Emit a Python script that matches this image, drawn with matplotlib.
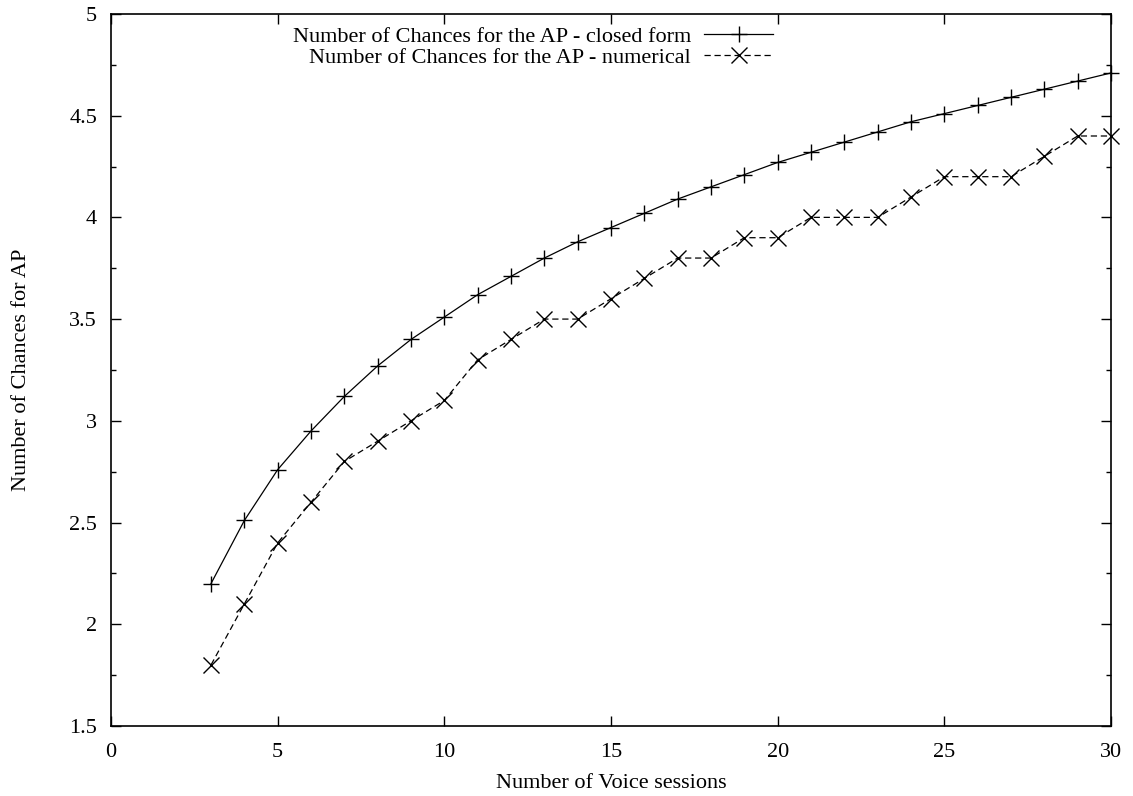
import matplotlib
matplotlib.use("Agg")
import matplotlib.pyplot as plt
from matplotlib.ticker import MultipleLocator

# Number of voice sessions
sessions = list(range(3, 31))

# closed form values
closed_form = [2.20, 2.51, 2.76, 2.95, 3.12, 3.27, 3.40, 3.51, 3.62, 3.71,
               3.80, 3.88, 3.95, 4.02, 4.09, 4.15, 4.21, 4.27, 4.32, 4.37,
               4.42, 4.47, 4.51, 4.55, 4.59, 4.63, 4.67, 4.71]

# numerical values
numerical = [1.8, 2.1, 2.4, 2.6, 2.8, 2.9, 3.0, 3.1, 3.3, 3.4,
             3.5, 3.5, 3.6, 3.7, 3.8, 3.8, 3.9, 3.9, 4.0, 4.0,
             4.0, 4.1, 4.2, 4.2, 4.2, 4.3, 4.4, 4.4]

plt.rcParams['font.family'] = ['Liberation Serif', 'DejaVu Serif']
plt.rcParams['font.size'] = 16

fig = plt.figure(figsize=(11.33, 7.96), dpi=100)
ax = fig.add_axes([0.098, 0.088, 0.8826, 0.8945])

ax.plot(sessions, closed_form, color='black', linewidth=0.9, marker='+',
        markersize=11, markeredgewidth=1.0,
        label='Number of Chances for the AP - closed form', clip_on=False)
ax.plot(sessions, numerical, color='black', linewidth=0.9, linestyle=(0, (5, 3)),
        marker='x', markersize=11, markeredgewidth=1.0,
        label='Number of Chances for the AP - numerical', clip_on=False)

ax.set_xlim(0, 30)
ax.set_ylim(1.5, 5)
ax.xaxis.set_major_locator(MultipleLocator(5))
ax.yaxis.set_minor_locator(MultipleLocator(0.25))
ax.set_yticks([1.5, 2, 2.5, 3, 3.5, 4, 4.5, 5])
ax.set_yticklabels(['1.5', '2', '2.5', '3', '3.5', '4', '4.5', '5'])

ax.tick_params(which='both', direction='in', top=True, right=True, width=1.0)
ax.tick_params(which='major', length=7)
ax.tick_params(which='minor', length=3.5)
ax.tick_params(axis='x', which='major', pad=12)
ax.tick_params(axis='y', which='major', pad=10)
for s in ax.spines.values():
    s.set_linewidth(1.2)

ax.set_xlabel('Number of Voice sessions')
ax.set_ylabel('Number of Chances for AP')
ax.xaxis.set_label_coords(0.5, -0.068)
ax.yaxis.set_label_coords(-0.080, 0.5)

ax.legend(loc='upper right', bbox_to_anchor=(0.662, 0.983), frameon=False,
          markerfirst=False, handlelength=3.1, handletextpad=0.6,
          labelspacing=0.02, borderpad=0, borderaxespad=0)

fig.savefig('out.png', dpi=100)
